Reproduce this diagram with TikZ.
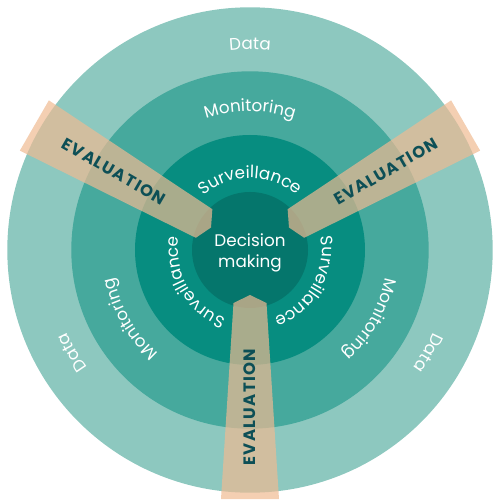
\documentclass[tikz,border=0pt]{standalone}
\usepackage{fontspec}
\setmainfont{Poppins}
\newfontfamily\evalfont{Poppins}[LetterSpace=8]
\usetikzlibrary{decorations.text}
\definecolor{dataC}{RGB}{141,200,191}
\definecolor{monC}{RGB}{70,169,157}
\definecolor{survC}{RGB}{7,141,128}
\definecolor{decC}{RGB}{5,118,108}
\definecolor{bandC}{RGB}{239,186,146}
\definecolor{evalC}{RGB}{13,79,86}
\newcommand\ringfont{\fontsize{16.8}{20.6}\selectfont}
\tikzset{
  ringlabel/.style={decorate, decoration={text along path, text align=center, text color=white, text={#1}}},
  bandshape/.style={fill=bandC, fill opacity=0.7},
  evallabel/.style={text=evalC, font=\evalfont\bfseries\fontsize{16.5}{18}\selectfont, inner sep=0pt},
}
\begin{document}
\begin{tikzpicture}
\useasboundingbox (-250pt,-250pt) rectangle (250pt,250pt);
% rings
\fill[dataC] (0,0) circle[radius=242.7pt];
\fill[monC] (0,0) circle[radius=178.7pt];
\fill[survC] (0,0) circle[radius=115pt];
\fill[decC] (0,0) circle[radius=58pt];
% evaluation bands
\foreach \a in {150,30,270} {
  \begin{scope}[rotate=\a]
    \fill[bandshape] (45pt,0pt) -- (53pt,16.5pt) -- (249pt,29pt) -- (249pt,-29pt) -- (53pt,-16.5pt) -- cycle;
  \end{scope}
}
% ring labels
\foreach \t in {90,-30,210} {
  \path[ringlabel={|\ringfont|Data}] (\t+70:200.7pt) arc[start angle=\t+70, end angle=\t-70, radius=200.7pt];
  \path[ringlabel={|\ringfont|Monitoring}] (\t+70:138.5pt) arc[start angle=\t+70, end angle=\t-70, radius=138.5pt];
  \path[ringlabel={|\ringfont|Surveillance}] (\t+80:72pt) arc[start angle=\t+80, end angle=\t-80, radius=72pt];
}
% centre
\node[name=dec, align=center, text=white, font=\ringfont] at (0pt,-2.6pt) {Decision\\making};
% evaluation labels
\node[evallabel, rotate=-30, name=ev1] at (150:157pt) {EVALUATION\hspace{-0.08em}};
\node[evallabel, rotate=30, name=ev2] at (30:157pt) {EVALUATION\hspace{-0.08em}};
\node[evallabel, rotate=90, name=ev3] at (270:157pt) {EVALUATION\hspace{-0.08em}};
\end{tikzpicture}
\end{document}
